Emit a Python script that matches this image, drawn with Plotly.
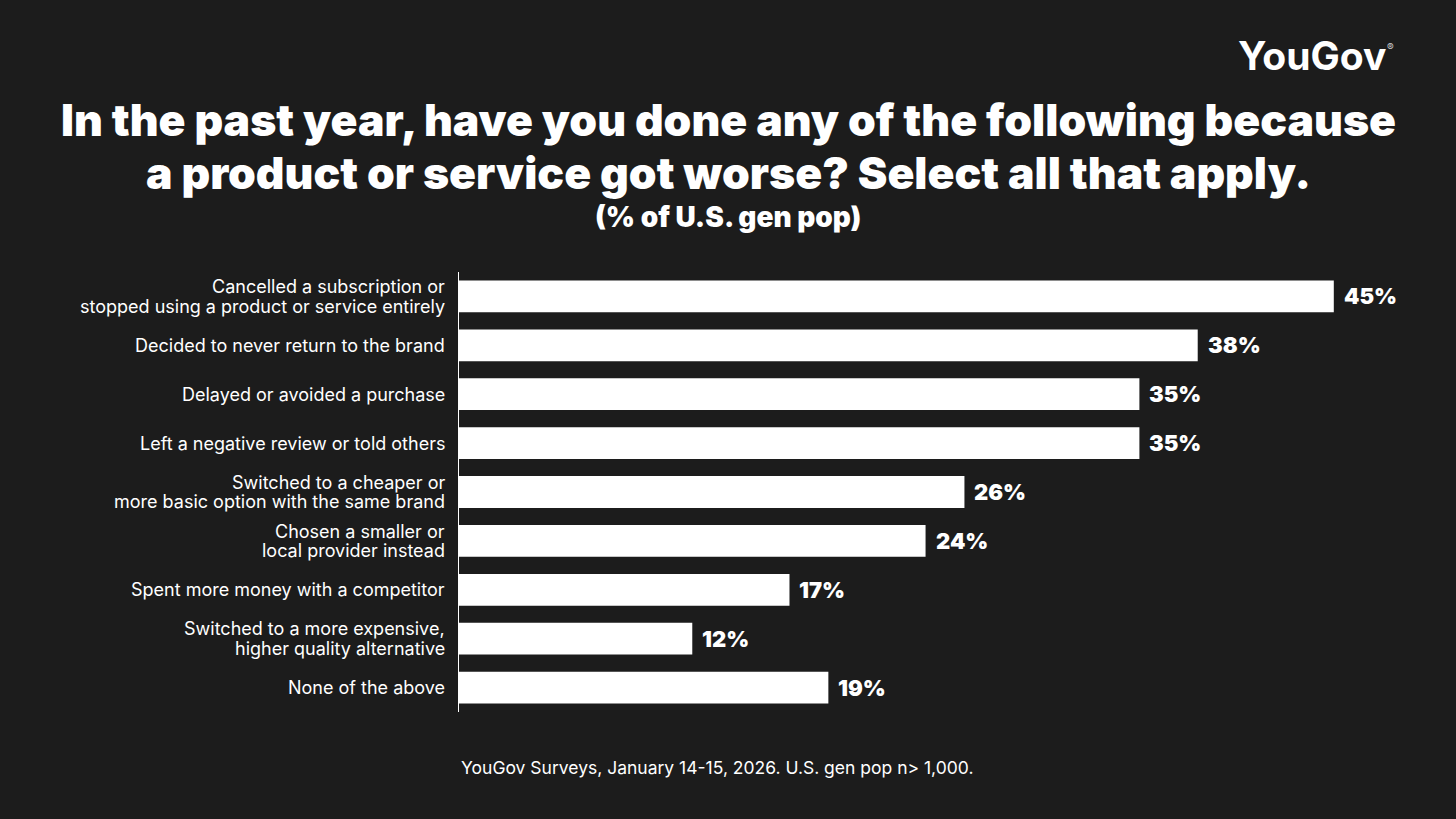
import plotly.graph_objects as go

categories = [
    "Cancelled a subscription or<br>stopped using a product or service entirely",
    "Decided to never return to the brand",
    "Delayed or avoided a purchase",
    "Left a negative review or told others",
    "Switched to a cheaper or<br>more basic option with the same brand",
    "Chosen a smaller or<br>local provider instead",
    "Spent more money with a competitor",
    "Switched to a more expensive,<br>higher quality alternative",
    "None of the above",
]
values = [45, 38, 35, 35, 26, 24, 17, 12, 19]

BG = "#1c1c1c"
FONT = "Inter"
W, H = 1456, 819
ML, MR, MT, MB = 459, 25, 272, 107

fig = go.Figure(go.Bar(
    x=values,
    y=categories,
    orientation="h",
    marker=dict(color="white", line=dict(width=0)),
    hoverinfo="skip",
))

for cat, v in zip(categories, values):
    # value labels to the right of each bar
    fig.add_annotation(
        x=v, y=cat, xref="x", yref="y",
        text=f"{v}%", showarrow=False,
        xanchor="left", xshift=8,
        font=dict(family=FONT, size=22, color="white", weight=900),
    )
    # category labels, drawn line by line for tighter line spacing
    lines = cat.split("<br>")
    n = len(lines)
    for i, line in enumerate(lines):
        fig.add_annotation(
            x=0, y=cat, xref="x", yref="y",
            text=line, showarrow=False,
            xanchor="right", xshift=-12,
            yanchor="middle", yshift=((n - 1) / 2 - i) * 19.5,
            font=dict(family=FONT, size=18, color="white"),
        )


def paper_y(py):
    # pixel row from the top of the page -> paper coordinates
    return (H - MB - py) / (H - MT - MB)


def paper_x(px):
    return (px - ML) / (W - ML - MR)


titles = [
    ("In the past year, have you done any of the following because", 120, 44.5),
    ("a product or service got worse? Select all that apply.", 173, 44.5),
    ("(% of U.S. gen pop)", 217, 28),
]
for text, py, size in titles:
    fig.add_annotation(
        x=paper_x(728), y=paper_y(py), xref="paper", yref="paper",
        xanchor="center", yanchor="middle", text=text, showarrow=False,
        font=dict(family=FONT, size=size, color="white", weight=900),
    )

# logo
fig.add_annotation(
    x=paper_x(1236), y=paper_y(56), xref="paper", yref="paper",
    xanchor="left", yanchor="middle", showarrow=False,
    text="YouGov",
    font=dict(family=FONT, size=39, color="white", weight=700),
)
fig.add_annotation(
    x=paper_x(1385), y=paper_y(47), xref="paper", yref="paper",
    xanchor="left", yanchor="middle", showarrow=False,
    text="®",
    font=dict(family=FONT, size=10, color="#cccccc"),
)

fig.add_annotation(
    x=0, y=paper_y(767), xref="paper", yref="paper",
    xanchor="left", yanchor="middle", showarrow=False,
    text="YouGov Surveys, January 14-15, 2026. U.S. gen pop n> 1,000.",
    font=dict(family=FONT, size=17.5, color="white"),
)

fig.update_layout(
    width=W, height=H,
    paper_bgcolor=BG, plot_bgcolor=BG,
    margin=dict(l=ML, r=MR, t=MT, b=MB),
    bargap=0.35,
    showlegend=False,
    font=dict(family=FONT, color="white"),
    xaxis=dict(range=[0, 50], visible=False, fixedrange=True),
    yaxis=dict(
        autorange="reversed",
        showgrid=False, zeroline=False,
        showline=True, linecolor="white", linewidth=1,
        ticks="", showticklabels=False, fixedrange=True,
    ),
)

fig.write_html(
    "out.html",
    config={"displayModeBar": False},
    post_script="document.body.style.margin='0';document.body.style.background='%s';" % BG,
)
